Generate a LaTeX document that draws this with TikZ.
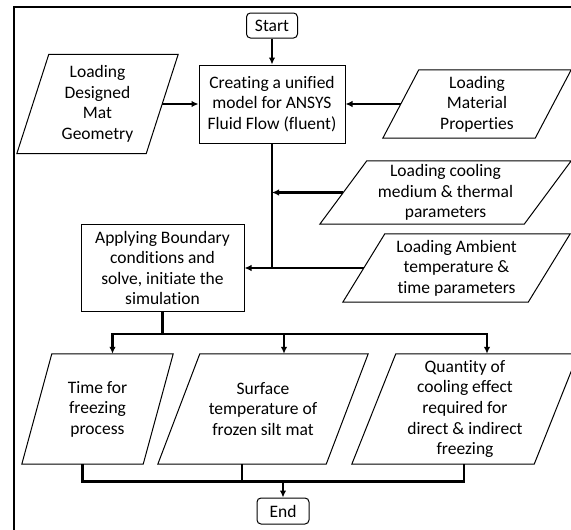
\documentclass[tikz,border=0pt]{standalone}
\usepackage{fontspec}
\setmainfont{Carlito}[Ligatures=NoCommon]
\usetikzlibrary{arrows.meta,calc}
\newcommand\paraoutline[2]{\draw[shapeline] ($(#1.north west)+(#2,0)$) -- (#1.north east) -- ($(#1.south east)+(-#2,0)$) -- (#1.south west) -- cycle;}
\begin{document}
\begin{tikzpicture}[x=1pt,y=-1pt,
  txt/.style={align=center,inner sep=0pt,font=\fontsize{17.5}{20.6}\selectfont},
  boxnode/.style={txt,draw,line width=1pt},
  termnode/.style={boxnode,rounded corners=4pt},
  paranode/.style={txt},
  shapeline/.style={line width=1pt,line join=miter},
  conn/.style={line width=2.2pt},
  arr/.style={conn,-{Latex[length=7pt,width=6.5pt]}},
  frameline/.style={line width=2.4pt}
]
\useasboundingbox (0,0) rectangle (571,530);
\fill[white] (0,0) rectangle (571,530);
\clip (0,0) rectangle (571,530);
\draw[frameline] (14,535) -- (14,7) -- (575,7);

% process nodes
\node[termnode,minimum width=51pt,minimum height=25pt] (st) at (272,25.5) {Start};
\node[boxnode,minimum width=146pt,minimum height=78pt] (cu) at (272,104) {Creating a unified\\model for ANSYS\\Fluid Flow (fluent)};
\node[boxnode,minimum width=163pt,minimum height=87pt] (ab) at (162.5,268) {Applying Boundary\\conditions and\\solve, initiate the\\simulation};
\node[termnode,minimum width=52pt,minimum height=26pt] (en) at (283,511) {End};

% data nodes (parallelograms)
\node[paranode,minimum width=161pt,minimum height=99pt] (lp) at (97.5,104) {Loading\\Designed\\Mat\\Geometry};
\paraoutline{lp}{32}
\node[paranode,minimum width=188pt,minimum height=68pt] (mp) at (477,104) {Loading\\Material\\Properties};
\paraoutline{mp}{36}
\node[paranode,minimum width=251pt,minimum height=63pt] (cp) at (445.5,192.5) {Loading cooling\\medium \& thermal\\parameters};
\paraoutline{cp}{47}
\node[paranode,minimum width=227pt,minimum height=68pt] (ap) at (456.5,268) {Loading Ambient\\temperature \&\\time parameters};
\paraoutline{ap}{42}
\node[paranode,minimum width=151pt,minimum height=110pt] (o1) at (97.5,409) {Time for\\freezing\\process};
\paraoutline{o1}{30}
\node[paranode,minimum width=210pt,minimum height=110pt] (o2) at (263,409) {Surface\\temperature of\\frozen silt mat};
\paraoutline{o2}{42}
\node[paranode,minimum width=226pt,minimum height=110pt] (o3) at (465,409) {Quantity of\\cooling effect\\required for\\direct \& indirect\\freezing};
\paraoutline{o3}{44}

% connectors
\draw[arr] (st.south) -- (cu.north);
\draw[arr] ($(lp.east)+(-16,0)$) -- (cu.west);
\draw[arr] ($(mp.west)+(18,0)$) -- (cu.east);
\draw[arr] (cu.south) |- (ab.east);
\draw[arr] ($(cp.west)+(23.5,0)$) -- (cu.south |- cp.west);
\draw[conn] ($(ap.west)+(21,0)$) -- (cu.south |- ap.west);

\coordinate (bj) at ($(ab.south)+(0,22)$);
\coordinate (o1t) at ($(o1.north)+(15,0)$);
\coordinate (o2t) at ($(o2.north)+(21,0)$);
\coordinate (o3t) at ($(o3.north)+(22,0)$);
\draw[conn] (ab.south) -- (bj);
\draw[arr] (bj) -| (o1t);
\draw[arr] (bj) -| (o3t);
\draw[arr] (o2t |- bj) -- (o2t);

\coordinate (o1b) at ($(o1.south)+(-15,0)$);
\coordinate (o2b) at ($(o2.south)+(-21,0)$);
\coordinate (o3b) at ($(o3.south)+(-1,0)$);
\coordinate (mj) at ($(en.north)+(0,-16)$);
\draw[conn] (o1b) -- (o1b |- mj) -- (o3b |- mj) -- (o3b);
\draw[conn] (o2b) -- (o2b |- mj);
\draw[arr] (mj) -- (en.north);
\end{tikzpicture}
\end{document}
